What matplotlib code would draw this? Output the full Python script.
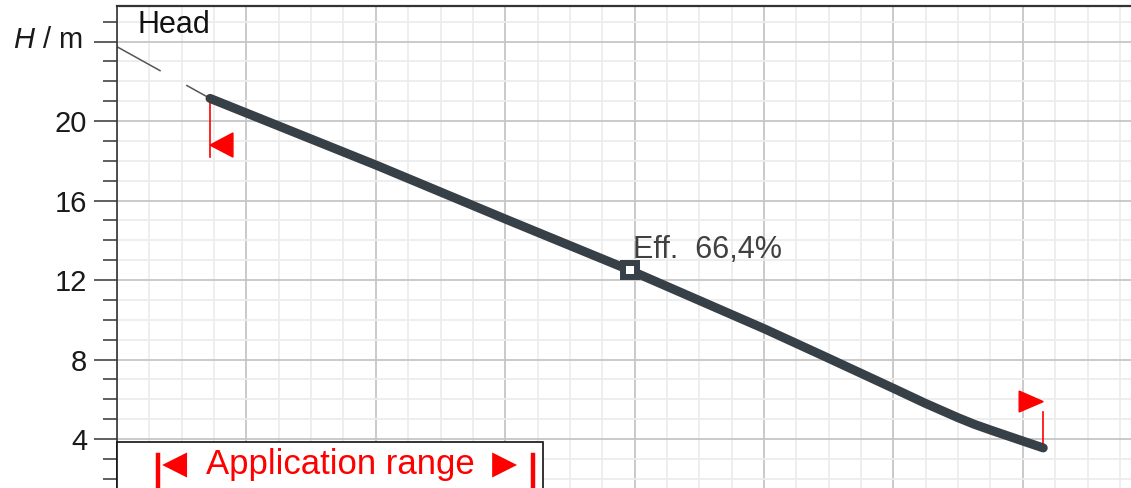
import numpy as np
import matplotlib.pyplot as plt
from matplotlib.ticker import MultipleLocator, FixedLocator, FixedFormatter
from matplotlib.patches import Polygon, Rectangle
from matplotlib.lines import Line2D

plt.rcParams['font.family'] = ['Liberation Sans', 'DejaVu Sans']
plt.rcParams['mathtext.fontset'] = 'custom'
plt.rcParams['mathtext.it'] = 'Liberation Sans:italic'
plt.rcParams['mathtext.rm'] = 'Liberation Sans'

# Kurvdata (Q i godtyckliga enheter, H i m)
q = [0.719, 2.007, 3.012, 3.961, 5.008, 5.47, 6.0, 6.245, 6.50, 6.625, 6.76, 6.99, 7.158]
h = [21.14, 17.77, 15.04, 12.50, 9.53, 8.15, 6.55, 5.80, 5.07, 4.74, 4.43, 3.92, 3.55]
ext_q = [0.0, 0.719]
ext_h = [23.74, 21.14]
eff_q = 3.961
eff_h = 12.50
eff_text = "Eff.  66,4%"
yticks = [4, 8, 12, 16, 20, 24]
ylabels = ['4', '8', '12', '16', '20', '']
ylabel_text = r'$\mathit{H}$ / m'

W, H = 1131, 488
fig = plt.figure(figsize=(W/100, H/100), dpi=100)

def fx(px):
    return px / W

def fy(py):
    return 1 - py / H

# axes går utanför bilden nedåt och till höger
ax = fig.add_axes([fx(117), fy(498.6), 1035.2/W, 492.6/H])
ax.set_xlim(0, 8)
ax.set_ylim(1.0, 25.79)

ax.xaxis.set_major_locator(MultipleLocator(1))
ax.xaxis.set_minor_locator(MultipleLocator(0.25))
ax.yaxis.set_major_locator(FixedLocator(yticks))
ax.yaxis.set_major_formatter(FixedFormatter(ylabels))
ax.yaxis.set_minor_locator(MultipleLocator(1))

ax.grid(which='minor', color='#ededed', linewidth=1.3)
ax.grid(which='major', color='#c6c6c6', linewidth=1.3)
ax.set_axisbelow(True)

ax.tick_params(axis='x', which='both', bottom=False, labelbottom=False)
ax.tick_params(axis='y', which='major', length=16.5, width=1.1, color='#333333',
               labelsize=21, labelcolor='#1a1a1a', pad=5)
ax.tick_params(axis='y', which='minor', length=10, width=1.1, color='#333333')
for s in ['right', 'bottom']:
    ax.spines[s].set_visible(False)
ax.spines['left'].set_color('#333333')
ax.spines['left'].set_linewidth(1.2)
ax.spines['top'].set_color('#333333')
ax.spines['top'].set_linewidth(1.6)

fig.text(fx(83), fy(48), ylabel_text, fontsize=21, color='#1a1a1a',
         ha='right', va='baseline')

# streckad förlängning
lw_ext = 1.1
ax.plot(ext_q, ext_h, color='#555555', linewidth=lw_ext,
        dashes=[36/lw_ext, 21/lw_ext], solid_capstyle='butt')

# huvudkurva
ax.plot(q, h, color='#373f47', linewidth=6.5, solid_capstyle='round',
        solid_joinstyle='round', zorder=3)

# verkningsgradspunkt
ax.plot([eff_q], [eff_h], marker='s', markersize=10, markerfacecolor='white',
        markeredgecolor='#373f47', markeredgewidth=4.3, zorder=4)
ax.annotate(eff_text, (eff_q, eff_h), xytext=(2.5, 8.6), textcoords='offset points',
            fontsize=22, color='#404040', va='baseline', ha='left', zorder=5)

# gränsmarkörer för användningsområde
red = '#ff0000'
ax.plot([q[0], q[0]], [h[0], h[0] - 2.95], color=red, linewidth=1.2, zorder=2)
ax.add_patch(Polygon([[q[0], h[0] - 2.35], [q[0] + 0.177, h[0] - 1.74],
                      [q[0] + 0.177, h[0] - 2.95]], closed=True, color=red, zorder=2))
ax.plot([q[-1], q[-1]], [h[-1], h[-1] + 1.81], color=red, linewidth=1.2, zorder=2)
ax.add_patch(Polygon([[q[-1], h[-1] + 2.33], [q[-1] - 0.186, h[-1] + 1.81],
                      [q[-1] - 0.186, h[-1] + 2.86]], closed=True, color=red, zorder=2))

fig.text(fx(137), fy(33), "Head", fontsize=22, color='#111111', va='baseline')

# ruta för "Application range"
fig.patches.append(Rectangle((fx(117), fy(500)), fx(543) - fx(117), fy(442) - fy(500),
                             transform=fig.transFigure, facecolor='white',
                             edgecolor='#111111', linewidth=1.2, zorder=5))
fig.text(fx(154), fy(477), "\u25c4", fontsize=30,
         color=red, va='baseline', ha='left', zorder=6)
fig.text(fx(206), fy(474), "Application range", fontsize=25,
         color=red, va='baseline', ha='left', zorder=6)
fig.text(fx(525), fy(477), "\u25ba", fontsize=30,
         color=red, va='baseline', ha='right', zorder=6)
for bx in [157.5, 532.5]:
    fig.lines.append(Line2D([fx(bx), fx(bx)], [fy(455), fy(492)],
                            transform=fig.transFigure, color=red, linewidth=3.2, zorder=6))

fig.savefig('out.png', dpi=100)
